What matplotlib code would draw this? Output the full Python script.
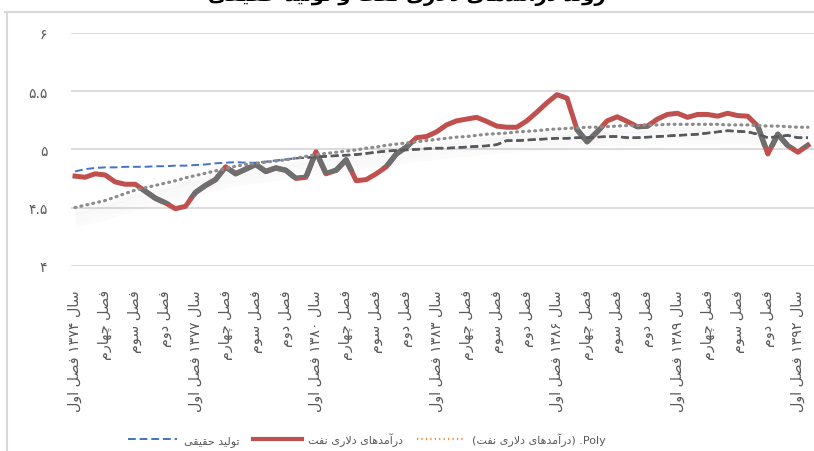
import numpy as np
import matplotlib.pyplot as plt
from matplotlib.patches import Polygon
from matplotlib.lines import Line2D

plt.rcParams['font.family'] = ['DejaVu Sans']

# --- داده‌ها ---
start_year = 1374
quarter_names = ['فصل اول', 'فصل دوم', 'فصل سوم', 'فصل چهارم']

revenue = [4.77, 4.76, 4.79, 4.78, 4.72, 4.70, 4.70, 4.64, 4.58, 4.54,
           4.49, 4.51, 4.63, 4.69, 4.74, 4.85, 4.79, 4.83, 4.87, 4.81,
           4.84, 4.82, 4.75, 4.76, 4.98, 4.79, 4.82, 4.91, 4.73, 4.74,
           4.79, 4.85, 4.96, 5.02, 5.10, 5.11, 5.15, 5.21, 5.245, 5.26,
           5.275, 5.24, 5.20, 5.19, 5.19, 5.245, 5.32, 5.40, 5.47, 5.44,
           5.17, 5.065, 5.15, 5.245, 5.28, 5.24, 5.195, 5.20, 5.26, 5.30,
           5.31, 5.275, 5.30, 5.30, 5.285, 5.31, 5.29, 5.285, 5.20, 4.96,
           5.13, 5.03, 4.975, 5.035]

production = [4.81, 4.83, 4.84, 4.845, 4.845, 4.85, 4.85, 4.85, 4.855, 4.855,
              4.86, 4.86, 4.865, 4.87, 4.88, 4.885, 4.89, 4.885, 4.885, 4.895,
              4.905, 4.915, 4.925, 4.93, 4.935, 4.94, 4.945, 4.95, 4.955, 4.965,
              4.975, 4.985, 4.99, 4.995, 5.00, 5.005, 5.01, 5.01, 5.015, 5.02,
              5.025, 5.03, 5.04, 5.075, 5.075, 5.08, 5.085, 5.09, 5.095, 5.095,
              5.10, 5.10, 5.105, 5.11, 5.11, 5.10, 5.10, 5.105, 5.11, 5.115,
              5.12, 5.125, 5.13, 5.14, 5.15, 5.16, 5.155, 5.15, 5.13, 5.10,
              5.11, 5.12, 5.10, 5.10]

poly_trend = [4.50, 4.52, 4.54, 4.56, 4.59, 4.62, 4.65, 4.67, 4.69, 4.71,
              4.73, 4.755, 4.775, 4.795, 4.815, 4.835, 4.855, 4.87, 4.88, 4.89,
              4.90, 4.91, 4.925, 4.94, 4.955, 4.965, 4.975, 4.985, 4.995, 5.01,
              5.02, 5.035, 5.045, 5.055, 5.065, 5.075, 5.085, 5.095, 5.105, 5.11,
              5.12, 5.13, 5.135, 5.14, 5.15, 5.155, 5.16, 5.17, 5.175, 5.18,
              5.185, 5.19, 5.19, 5.195, 5.20, 5.205, 5.205, 5.21, 5.21, 5.215,
              5.215, 5.215, 5.215, 5.215, 5.215, 5.21, 5.21, 5.21, 5.205, 5.20,
              5.20, 5.195, 5.19, 5.19]

y_ticks = [4, 4.5, 5, 5.5, 6]

# --- شکل‌دهی ساده حروف فارسی (matplotlib خودش انجام نمی‌دهد) ---
FORMS = {
    'ا': ('\uFE8D', '\uFE8E', None, None),
    'آ': ('\uFE81', '\uFE82', None, None),
    'ت': ('\uFE95', '\uFE96', '\uFE97', '\uFE98'),
    'ح': ('\uFEA1', '\uFEA2', '\uFEA3', '\uFEA4'),
    'د': ('\uFEA9', '\uFEAA', None, None),
    'ر': ('\uFEAD', '\uFEAE', None, None),
    'س': ('\uFEB1', '\uFEB2', '\uFEB3', '\uFEB4'),
    'ص': ('\uFEB9', '\uFEBA', '\uFEBB', '\uFEBC'),
    'ف': ('\uFED1', '\uFED2', '\uFED3', '\uFED4'),
    'ق': ('\uFED5', '\uFED6', '\uFED7', '\uFED8'),
    'ل': ('\uFEDD', '\uFEDE', '\uFEDF', '\uFEE0'),
    'م': ('\uFEE1', '\uFEE2', '\uFEE3', '\uFEE4'),
    'ن': ('\uFEE5', '\uFEE6', '\uFEE7', '\uFEE8'),
    'ه': ('\uFEE9', '\uFEEA', '\uFEEB', '\uFEEC'),
    'و': ('\uFEED', '\uFEEE', None, None),
    'ی': ('\uFBFC', '\uFBFD', '\uFBFE', '\uFBFF'),
    'چ': ('\uFB7A', '\uFB7B', '\uFB7C', '\uFB7D'),
}
LAM_ALEF = {'ا': ('\uFEFB', '\uFEFC'), 'آ': ('\uFEF5', '\uFEF6')}
FA_DIGITS = str.maketrans('0123456789', '۰۱۲۳۴۵۶۷۸۹')


def shape_word(w):
    out = []
    i = 0
    while i < len(w):
        c = w[i]
        prev_joins = i > 0 and w[i - 1] in FORMS and FORMS[w[i - 1]][2] is not None
        if c == 'ل' and i + 1 < len(w) and w[i + 1] in LAM_ALEF:
            out.append(LAM_ALEF[w[i + 1]][1 if prev_joins else 0])
            i += 2
            continue
        if c not in FORMS:
            out.append(c)
            i += 1
            continue
        f = FORMS[c]
        next_joins = f[2] is not None and i + 1 < len(w) and w[i + 1] in FORMS
        if prev_joins and next_joins:
            out.append(f[3])
        elif prev_joins:
            out.append(f[1])
        elif next_joins:
            out.append(f[2])
        else:
            out.append(f[0])
        i += 1
    return ''.join(reversed(out))


def fa(text):
    words = text.split(' ')
    vis = [w if not any(ch in FORMS for ch in w) else shape_word(w) for w in words]
    return ' '.join(reversed(vis)).translate(FA_DIGITS)


categories = []
for k in range(len(revenue)):
    q = k % 4
    if q == 0:
        categories.append('سال ' + str(start_year + k // 4) + ' ' + quarter_names[0])
    else:
        categories.append(quarter_names[q])

x = np.arange(len(revenue))
rev = np.array(revenue)
prod = np.array(production)
trend = np.array(poly_trend)

fig = plt.figure(figsize=(8.14, 4.52), dpi=100)
ax = fig.add_axes([71 / 814, (452 - 266.7) / 452, 1 - 71 / 814, (266.7 - 34) / 452])

ax.set_ylim(4, 6)
ax.set_xlim(-0.4, 73.6)
ax.set_yticks(y_ticks)
ax.set_yticklabels([fa('%g' % v) for v in y_ticks])
ax.grid(axis='y', color='#d9d9d9', lw=1.3)
ax.set_axisbelow(True)
for s in ax.spines.values():
    s.set_visible(False)

ax.set_xticks(x[::3])
ax.set_xticklabels([fa(c) for c in categories[::3]], rotation=90, fontsize=10.3, color='#595959')
ax.tick_params(axis='x', length=0, pad=17)
ax.tick_params(axis='y', length=0, pad=17, labelsize=10, labelcolor='#595959')

# سایه کم‌رنگ زیر خط روند
for d, a in [(0.02, 0.05), (0.05, 0.05), (0.09, 0.05), (0.13, 0.04)]:
    ax.fill_between(x, trend - d - 0.04, trend - d, color='#9a9a9a', alpha=a, lw=0, zorder=1)

# ناحیه سایه که خطوط را خاکستری می‌کند
band = Polygon(np.column_stack([np.r_[x, x[::-1]], np.r_[trend - 0.005, (trend - 0.18)[::-1]]]),
               closed=True, facecolor='none', edgecolor='none')
ax.add_patch(band)

ax.plot(x, rev, color='#c0504d', lw=3.6, solid_joinstyle='round', zorder=3)
g1, = ax.plot(x, rev, color='#6e6e6e', lw=3.9, solid_joinstyle='round', zorder=4)
g1.set_clip_path(band)

ax.plot(x, prod, color='#4472c4', lw=1.4, dashes=(4, 2), zorder=5)
g2, = ax.plot(x, prod, color='#595959', lw=1.4, dashes=(4, 2), zorder=6)
g2.set_clip_path(band)
g3, = ax.plot(x, prod, color='#595959', lw=1.9, dashes=(2.95, 1.47), zorder=6)
g3.set_clip_path(band)

ax.plot(x, trend, color='#8c8c8c', lw=2.3, linestyle=(0, (0.3, 1.6)),
        dash_capstyle='round', zorder=7)

# کادر نمودار
fig.add_artist(Line2D([7 / 814, 7 / 814], [0, 1 - 12.5 / 452], color='#d9d9d9', lw=1.5))
fig.add_artist(Line2D([5 / 814, 1], [1 - 12.5 / 452, 1 - 12.5 / 452], color='#d9d9d9', lw=1.5))

# عنوان (بالای کادر، بیشترش بیرون از تصویر)
fig.text(0.5, 1 - 1 / 452, fa('روند درآمدهای دلاری نفت و تولید حقیقی'),
         ha='center', va='baseline', fontsize=14, fontweight='bold', color='black')

handles = [Line2D([], [], color='#4472c4', lw=1.4, dashes=(4, 2)),
           Line2D([], [], color='#c0504d', lw=3),
           Line2D([], [], color='#ed7d31', lw=1.6, linestyle=(0, (0.5, 1.5)))]
labels = [fa('تولید حقیقی'), fa('درآمدهای دلاری نفت'),
          '(' + fa('درآمدهای دلاری نفت') + ') .Poly']
fig.legend(handles, labels, loc='center', bbox_to_anchor=(367 / 814, 1 - 440 / 452),
           ncol=3, frameon=False, fontsize=8.0, labelcolor='#595959',
           handlelength=4.4, handletextpad=0.6, columnspacing=1.2)

fig.savefig('out.png', dpi=100)
